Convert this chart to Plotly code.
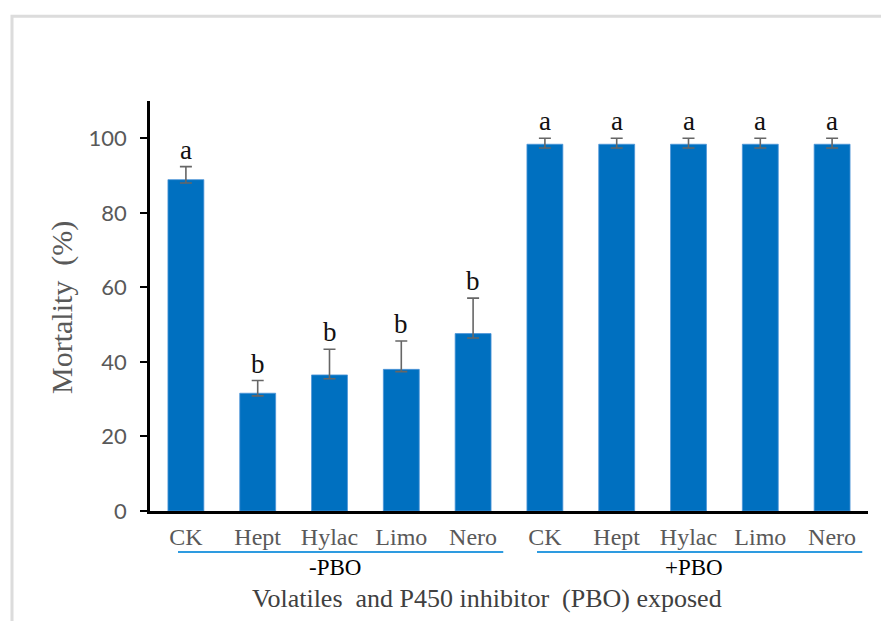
import plotly.graph_objects as go

# Mortality (%) of insects exposed to volatiles, without and with the P450 inhibitor PBO
treatments = ["CK", "Hept", "Hylac", "Limo", "Nero"]
groups = ["-PBO", "+PBO"]
mortality_minus_pbo = [88.9, 31.6, 36.5, 38.0, 47.6]
mortality_plus_pbo = [98.4, 98.4, 98.4, 98.4, 98.4]
err_up_minus_pbo = [3.5, 3.4, 6.9, 7.6, 9.5]
err_down_minus_pbo = [0.9, 0.7, 1.0, 0.6, 1.2]
err_up_plus_pbo = [1.6, 1.6, 1.6, 1.6, 1.6]
err_down_plus_pbo = [1.0, 1.0, 1.0, 1.0, 1.0]
letters_minus_pbo = ["a", "b", "b", "b", "b"]
letters_plus_pbo = ["a", "a", "a", "a", "a"]
y_ticks = [0, 20, 40, 60, 80, 100]

labels = treatments + treatments
values = mortality_minus_pbo + mortality_plus_pbo
err_up = err_up_minus_pbo + err_up_plus_pbo
err_down = err_down_minus_pbo + err_down_plus_pbo
letters = letters_minus_pbo + letters_plus_pbo
xpos = list(range(len(values)))

SERIF = "Liberation Serif"
SANS = "Lato"
GREY = "#595959"

fig = go.Figure()
fig.add_trace(go.Bar(
    x=xpos, y=values, width=0.5,
    marker=dict(color="#0070c0", line=dict(color="#4d94d8", width=0.8)),
    error_y=dict(type="data", symmetric=False, array=err_up, arrayminus=err_down,
                 color="#666666", thickness=1.6, width=6),
    showlegend=False,
))

# significance letters above the error bars
for xi, v, e, t in zip(xpos, values, err_up, letters):
    fig.add_annotation(x=xi, y=v + e, text=t, showarrow=False, xref="x", yref="y",
                       yanchor="bottom", yshift=0,
                       font=dict(family=SERIF, size=27, color="#111111"))

# group underlines and labels
n = len(treatments)
for gi, g in enumerate(groups):
    start = gi * n
    fig.add_shape(type="line", xref="x", yref="paper",
                  x0=start - 0.11, x1=start + n - 1 + 0.42, y0=-0.1, y1=-0.1,
                  line=dict(color="#2e9be0", width=2))
    fig.add_annotation(x=start + (n - 1) / 2 + 0.07, y=-0.1366, xref="x", yref="paper",
                       text=g, showarrow=False, yanchor="middle",
                       font=dict(family=SERIF, size=23, color="#000000"))

# axis titles
fig.add_annotation(x=-0.1226, y=0.4976, xref="paper", yref="paper", textangle=-90,
                   text="Mortality  (%)", showarrow=False, xanchor="center", yanchor="middle",
                   font=dict(family=SERIF, size=30, color=GREY))
fig.add_annotation(x=0.469, y=-0.2122, xref="paper", yref="paper",
                   text="Volatiles  and P450 inhibitor  (PBO) exposed", showarrow=False,
                   xanchor="center", yanchor="middle",
                   font=dict(family=SERIF, size=26, color="#404040"))

# outer frame
fig.add_shape(type="rect", xref="paper", yref="paper", x0=-0.1922, y0=-0.45, x1=1.1, y1=1.207,
              line=dict(color="#dcdcdc", width=3), layer="below")

fig.update_layout(
    width=881, height=621,
    margin=dict(l=150, r=13, t=101, b=110),
    paper_bgcolor="white", plot_bgcolor="white",
    bargap=0.5,
    xaxis=dict(range=[-0.5, len(values) - 0.5], tickvals=xpos, ticktext=labels,
               showline=True, linecolor="black", linewidth=2.5, ticks="",
               showgrid=False, zeroline=False, ticklabelstandoff=2,
               tickfont=dict(family=SERIF, size=24, color=GREY)),
    yaxis=dict(range=[0, 110], tickvals=y_ticks, showline=True, linecolor="black",
               linewidth=2.5, ticks="outside", ticklen=7, tickwidth=2, tickcolor="black",
               showgrid=False, zeroline=False, ticklabelstandoff=9,
               tickfont=dict(family=SANS, size=22, color=GREY)),
)

fig.write_html("out.html")
